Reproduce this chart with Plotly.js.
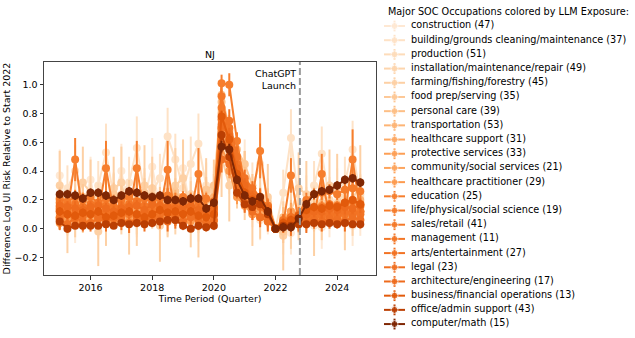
<!DOCTYPE html>
<html>
<head>
<meta charset="utf-8">
<script src="https://cdn.plot.ly/plotly-3.0.1.min.js"></script>
<style>
  html, body { margin: 0; padding: 0; background: #fff; }
  #chart { width: 635px; height: 338px; }
</style>
</head>
<body>
<div id="chart"></div>
<script>
// Trimestres 2015Q1 .. 2024Q4
const quarters = [2015, 2015.25, 2015.5, 2015.75, 2016, 2016.25, 2016.5, 2016.75, 2017, 2017.25, 2017.5, 2017.75,
  2018, 2018.25, 2018.5, 2018.75, 2019, 2019.25, 2019.5, 2019.75, 2020, 2020.25, 2020.5, 2020.75,
  2021, 2021.25, 2021.5, 2021.75, 2022, 2022.25, 2022.5, 2022.75, 2023, 2023.25, 2023.5, 2023.75,
  2024, 2024.25, 2024.5, 2024.75];

const occupations = ['construction (47)', 'building/grounds cleaning/maintenance (37)', 'production (51)',
  'installation/maintenance/repair (49)', 'farming/fishing/forestry (45)', 'food prep/serving (35)',
  'personal care (39)', 'transportation (53)', 'healthcare support (31)', 'protective services (33)',
  'community/social services (21)', 'healthcare practitioner (29)', 'education (25)',
  'life/physical/social science (19)', 'sales/retail (41)', 'management (11)', 'arts/entertainment (27)',
  'legal (23)', 'architecture/engineering (17)', 'business/financial operations (13)',
  'office/admin support (43)', 'computer/math (15)'];

const colors = ['#fee8d3', '#fee2c6', '#fddcba', '#fdd5ad', '#fdd0a4', '#fdc896', '#fdbf86', '#fdb475',
  '#fda863', '#fd9f55', '#fda55e', '#fd9b4f', '#f67e2d', '#f57b2a', '#f47828', '#f37626', '#f27324',
  '#f07022', '#ee6b1d', '#e25a0b', '#bb3f03', '#7f2704'];

const launchQuarter = 2022.79;

// valores y errores por ocupacion
const construction = [0.37,0.10,0.06,0.16, 0.34,0.08,0.05,0.19, 0.40,0.12,0.08,0.22, 0.43,0.14,0.10,0.24, 0.42,0.12,0.07,0.18, 0.28,0.60,0.42,0.36, 0.44,0.16,0.06,0.12, 0.00,-0.04,-0.03,0.08, 0.20,0.02,0.01,0.10, 0.24,0.04,0.02,0.12];
const constructionErr = [0.18,0.15,0.16,0.17, 0.16,0.14,0.15,0.18, 0.19,0.15,0.14,0.17, 0.20,0.16,0.15,0.18, 0.19,0.14,0.16,0.17, 0.15,0.20,0.18,0.16, 0.18,0.15,0.14,0.16, 0,0.14,0.15,0.16, 0.17,0.14,0.15,0.16, 0.18,0.15,0.14,0.17];
const building = [0.22,0.28,0.40,0.18, 0.20,0.30,0.53,0.22, 0.24,0.32,0.56,0.25, 0.26,0.35,0.64,0.48, 0.28,0.45,0.59,0.30, 0.25,0.70,0.55,0.40, 0.35,0.30,0.45,0.20, 0.00,0.25,0.63,0.18, 0.15,0.30,0.52,0.20, 0.18,0.32,0.55,0.22];
const buildingErr = [0.14,0.16,0.18,0.15, 0.15,0.17,0.20,0.16, 0.14,0.18,0.22,0.17, 0.16,0.17,0.20,0.18, 0.15,0.19,0.21,0.16, 0.15,0.22,0.20,0.18, 0.17,0.16,0.19,0.15, 0,0.16,0.20,0.15, 0.14,0.17,0.19,0.16, 0.15,0.18,0.20,0.16];
const production = [0.18,0.12,0.20,0.15, 0.14,0.22,0.16,0.28, 0.20,0.15,0.25,0.18, 0.22,0.17,0.26,0.20, 0.16,0.24,0.18,0.22, 0.20,0.82,0.58,0.38, 0.32,0.25,0.22,0.16, 0.00,0.06,0.10,0.14, 0.12,0.18,0.15,0.20, 0.16,0.22,0.18,0.24];
const productionErr = [0.10,0.12,0.11,0.13, 0.12,0.10,0.13,0.11, 0.11,0.12,0.10,0.13, 0.12,0.11,0.13,0.10, 0.11,0.12,0.10,0.12, 0.11,0.14,0.13,0.12, 0.12,0.11,0.10,0.12, 0,0.11,0.12,0.10, 0.11,0.12,0.11,0.13, 0.12,0.11,0.12,0.13];
const installation = [0.10,0.06,0.14,0.08, 0.12,0.05,0.16,0.10, 0.08,0.13,0.06,0.15, 0.11,0.09,0.17,0.07, 0.13,0.10,0.08,0.14, 0.12,0.74,0.52,0.33, 0.27,0.19,0.15,0.10, 0.00,0.05,0.08,0.04, 0.09,0.12,0.10,0.15, 0.11,0.14,0.13,0.17];
const installationErr = [0.11,0.10,0.12,0.11, 0.10,0.12,0.11,0.10, 0.12,0.11,0.10,0.12, 0.11,0.10,0.12,0.11, 0.10,0.12,0.11,0.10, 0.11,0.13,0.12,0.11, 0.10,0.11,0.12,0.10, 0,0.10,0.11,0.12, 0.11,0.10,0.12,0.11, 0.10,0.12,0.11,0.12];
const farming = [0.30,0.05,0.20,0.32, 0.25,-0.02,0.15,0.28, 0.32,0.08,0.12,0.30, 0.28,0.02,0.18,0.30, 0.35,0.10,0.05,0.25, 0.26,0.50,0.30,0.40, 0.30,0.10,0.18,0.22, 0.00,-0.05,0.12,0.28, 0.24,0.05,0.18,0.30, 0.28,0.08,0.20,0.32];
const farmingErr = [0.24,0.22,0.26,0.25, 0.23,0.24,0.27,0.22, 0.25,0.26,0.24,0.28, 0.22,0.25,0.24,0.26, 0.27,0.23,0.25,0.24, 0.22,0.28,0.25,0.26, 0.24,0.22,0.25,0.23, 0,0.24,0.26,0.25, 0.23,0.24,0.26,0.25, 0.24,0.23,0.25,0.26];
const foodPrep = [0.20,0.18,0.15,0.22, 0.19,0.17,0.14,0.24, 0.21,0.16,0.18,0.25, 0.23,0.20,0.16,0.26, 0.22,0.19,0.17,0.27, 0.30,0.93,0.70,0.55, 0.45,0.30,0.20,0.18, 0.00,-0.02,0.03,0.08, 0.10,0.06,0.08,0.12, 0.13,0.09,0.10,0.15];
const foodPrepErr = [0.09,0.08,0.10,0.09, 0.08,0.09,0.10,0.08, 0.09,0.08,0.09,0.10, 0.08,0.09,0.10,0.09, 0.09,0.08,0.10,0.09, 0.08,0.10,0.09,0.10, 0.09,0.08,0.09,0.10, 0,0.08,0.09,0.10, 0.09,0.08,0.10,0.09, 0.08,0.09,0.10,0.09];
const personalCare = [0.08,0.12,0.10,0.15, 0.10,0.14,0.12,0.09, 0.13,0.11,0.15,0.10, 0.12,0.16,0.11,0.14, 0.09,0.13,0.10,0.12, 0.11,0.88,0.66,0.45, 0.35,0.22,0.14,0.10, 0.00,0.08,0.12,0.06, 0.10,0.15,0.11,0.14, 0.12,0.16,0.13,0.18];
const personalCareErr = [0.08,0.07,0.09,0.08, 0.07,0.08,0.09,0.07, 0.08,0.09,0.07,0.08, 0.09,0.08,0.07,0.09, 0.08,0.07,0.09,0.08, 0.07,0.09,0.08,0.09, 0.08,0.07,0.08,0.09, 0,0.07,0.08,0.09, 0.08,0.07,0.09,0.08, 0.07,0.08,0.09,0.08];
const transportation = [0.20,0.17,0.15,0.19, 0.18,0.16,0.14,0.20, 0.19,0.18,0.16,0.21, 0.20,0.17,0.15,0.22, 0.19,0.16,0.15,0.20, 0.22,0.80,0.68,0.44, 0.33,0.26,0.20,0.15, 0.00,0.04,0.06,0.08, 0.12,0.13,0.14,0.16, 0.17,0.18,0.16,0.20];
const transportationErr = [0.05,0.04,0.05,0.06, 0.04,0.05,0.05,0.04, 0.05,0.06,0.04,0.05, 0.05,0.04,0.06,0.05, 0.04,0.05,0.05,0.06, 0.05,0.07,0.06,0.05, 0.05,0.04,0.05,0.05, 0,0.04,0.05,0.05, 0.05,0.04,0.05,0.06, 0.05,0.05,0.04,0.06];
const healthSupport = [0.12,0.09,0.14,0.10, 0.11,0.08,0.13,0.12, 0.10,0.09,0.15,0.11, 0.13,0.10,0.12,0.09, 0.12,0.11,0.13,0.10, 0.14,0.70,0.50,0.30, 0.22,0.16,0.12,0.08, 0.00,0.03,0.06,0.05, 0.07,0.09,0.08,0.10, 0.09,0.11,0.10,0.12];
const healthSupportErr = [0.06,0.05,0.06,0.07, 0.05,0.06,0.06,0.05, 0.06,0.07,0.05,0.06, 0.06,0.05,0.07,0.06, 0.05,0.06,0.06,0.07, 0.06,0.08,0.07,0.06, 0.06,0.05,0.06,0.06, 0,0.05,0.06,0.06, 0.06,0.05,0.06,0.07, 0.06,0.06,0.05,0.07];
const protective = [0.15,0.13,0.18,0.12, 0.14,0.16,0.20,0.13, 0.15,0.12,0.19,0.14, 0.16,0.14,0.21,0.13, 0.15,0.13,0.18,0.12, 0.16,0.66,0.55,0.35, 0.24,0.18,0.20,0.13, 0.00,0.05,0.12,0.08, 0.09,0.11,0.16,0.12, 0.13,0.15,0.20,0.16];
const protectiveErr = [0.06,0.06,0.07,0.05, 0.06,0.07,0.06,0.05, 0.06,0.05,0.07,0.06, 0.06,0.06,0.07,0.05, 0.06,0.05,0.07,0.06, 0.06,0.08,0.07,0.06, 0.06,0.05,0.07,0.06, 0,0.05,0.06,0.06, 0.06,0.05,0.07,0.06, 0.06,0.06,0.07,0.06];
const community = [0.07,0.10,0.12,0.06, 0.09,0.11,0.14,0.07, 0.08,0.10,0.13,0.09, 0.10,0.12,0.15,0.08, 0.09,0.11,0.14,0.07, 0.10,0.62,0.58,0.36, 0.26,0.18,0.20,0.10, 0.00,0.04,0.10,0.06, 0.07,0.09,0.13,0.08, 0.09,0.12,0.16,0.10];
const communityErr = [0.07,0.06,0.08,0.07, 0.06,0.07,0.08,0.06, 0.07,0.06,0.08,0.07, 0.07,0.06,0.08,0.06, 0.07,0.06,0.08,0.07, 0.06,0.09,0.08,0.07, 0.07,0.06,0.08,0.07, 0,0.06,0.07,0.07, 0.07,0.06,0.08,0.07, 0.06,0.07,0.08,0.07];
const healthPract = [0.04,0.06,0.05,0.03, 0.05,0.07,0.06,0.04, 0.06,0.05,0.07,0.05, 0.07,0.06,0.08,0.06, 0.06,0.05,0.07,0.04, 0.05,0.58,0.40,0.22, 0.16,0.10,0.08,0.05, 0.00,0.02,0.04,0.03, 0.04,0.05,0.06,0.05, 0.05,0.06,0.07,0.06];
const healthPractErr = [0.04,0.04,0.05,0.04, 0.04,0.05,0.04,0.04, 0.05,0.04,0.04,0.05, 0.04,0.04,0.05,0.04, 0.04,0.05,0.04,0.04, 0.04,0.06,0.05,0.05, 0.04,0.04,0.05,0.04, 0,0.04,0.04,0.05, 0.04,0.04,0.05,0.04, 0.04,0.05,0.04,0.04];
const education = [0.14,0.12,0.48,0.10, 0.13,0.11,0.42,0.12, 0.12,0.10,0.42,0.11, 0.13,0.12,0.41,0.10, 0.12,0.11,0.38,0.12, 0.13,1.01,1.00,0.61, 0.30,0.22,0.54,0.16, 0.00,0.03,0.37,0.05, 0.06,0.08,0.38,0.07, 0.08,0.10,0.48,0.12];
const educationErr = [0.04,0.04,0.15,0.04, 0.04,0.04,0.19,0.04, 0.04,0.04,0.19,0.04, 0.04,0.04,0.20,0.04, 0.04,0.04,0.18,0.04, 0.04,0.06,0.08,0.06, 0.05,0.05,0.19,0.04, 0,0.04,0.12,0.04, 0.04,0.04,0.14,0.04, 0.04,0.04,0.21,0.04];
const lifeScience = [0.21,0.19,0.22,0.20, 0.22,0.18,0.21,0.19, 0.20,0.22,0.19,0.21, 0.19,0.21,0.23,0.20, 0.22,0.20,0.18,0.21, 0.19,0.84,0.60,0.40, 0.30,0.24,0.20,0.16, 0.00,0.06,0.08,0.10, 0.20,0.24,0.25,0.26, 0.24,0.27,0.28,0.26];
const lifeScienceErr = [0.05,0.04,0.05,0.05, 0.04,0.05,0.05,0.04, 0.05,0.05,0.04,0.05, 0.05,0.04,0.05,0.05, 0.04,0.05,0.05,0.04, 0.05,0.07,0.06,0.05, 0.05,0.04,0.05,0.05, 0,0.04,0.05,0.05, 0.05,0.04,0.05,0.05, 0.04,0.05,0.05,0.05];
const sales = [0.13,0.11,0.10,0.14, 0.12,0.10,0.11,0.15, 0.12,0.11,0.10,0.13, 0.13,0.12,0.11,0.14, 0.12,0.10,0.11,0.13, 0.12,0.92,0.66,0.42, 0.28,0.20,0.15,0.09, 0.00,0.02,0.04,0.05, 0.07,0.08,0.09,0.10, 0.09,0.10,0.11,0.12];
const salesErr = [0.03,0.03,0.03,0.03, 0.03,0.03,0.03,0.03, 0.03,0.03,0.03,0.03, 0.03,0.03,0.03,0.03, 0.03,0.03,0.03,0.03, 0.03,0.04,0.04,0.03, 0.03,0.03,0.03,0.03, 0,0.03,0.03,0.03, 0.03,0.03,0.03,0.03, 0.03,0.03,0.03,0.03];
const management = [0.18,0.16,0.17,0.15, 0.17,0.18,0.16,0.15, 0.16,0.17,0.18,0.16, 0.17,0.16,0.15,0.17, 0.16,0.15,0.16,0.14, 0.15,0.76,0.70,0.45, 0.32,0.25,0.21,0.15, 0.00,0.04,0.07,0.09, 0.12,0.14,0.15,0.17, 0.16,0.18,0.19,0.17];
const managementErr = [0.03,0.03,0.04,0.03, 0.03,0.04,0.03,0.03, 0.04,0.03,0.03,0.04, 0.03,0.03,0.04,0.03, 0.03,0.04,0.03,0.03, 0.04,0.05,0.05,0.04, 0.04,0.03,0.04,0.03, 0,0.03,0.03,0.04, 0.03,0.03,0.04,0.03, 0.03,0.04,0.03,0.04];
const arts = [0.08,0.10,0.07,0.09, 0.11,0.08,0.10,0.07, 0.09,0.12,0.08,0.10, 0.10,0.09,0.11,0.08, 0.11,0.10,0.09,0.10, 0.09,0.70,0.75,0.50, 0.35,0.28,0.22,0.14, 0.00,0.05,0.08,0.06, 0.08,0.10,0.09,0.11, 0.10,0.12,0.11,0.10];
const artsErr = [0.06,0.05,0.06,0.06, 0.05,0.06,0.06,0.05, 0.06,0.06,0.05,0.06, 0.06,0.05,0.06,0.06, 0.05,0.06,0.06,0.05, 0.06,0.08,0.08,0.07, 0.06,0.05,0.06,0.06, 0,0.05,0.06,0.06, 0.06,0.05,0.06,0.06, 0.05,0.06,0.06,0.05];
const legal = [0.06,0.03,0.08,0.05, 0.04,0.07,0.05,0.08, 0.06,0.04,0.07,0.05, 0.08,0.06,0.05,0.07, 0.05,0.08,0.06,0.04, 0.06,0.48,0.45,0.28, 0.18,0.12,0.08,0.05, 0.00,0.03,0.02,0.05, 0.04,0.06,0.05,0.07, 0.06,0.05,0.08,0.06];
const legalErr = [0.07,0.06,0.07,0.07, 0.06,0.07,0.07,0.06, 0.07,0.07,0.06,0.07, 0.07,0.06,0.07,0.07, 0.06,0.07,0.07,0.06, 0.07,0.09,0.08,0.07, 0.07,0.06,0.07,0.07, 0,0.06,0.07,0.07, 0.07,0.06,0.07,0.07, 0.06,0.07,0.07,0.06];
const architecture = [0.16,0.15,0.14,0.13, 0.15,0.16,0.14,0.12, 0.14,0.15,0.16,0.13, 0.17,0.16,0.15,0.14, 0.15,0.16,0.13,0.12, 0.14,0.72,0.64,0.42, 0.30,0.22,0.18,0.14, 0.00,0.03,0.05,0.06, 0.10,0.12,0.12,0.14, 0.13,0.15,0.14,0.16];
const architectureErr = [0.04,0.04,0.05,0.04, 0.04,0.05,0.04,0.04, 0.05,0.04,0.04,0.05, 0.04,0.04,0.05,0.04, 0.04,0.05,0.04,0.04, 0.05,0.06,0.06,0.05, 0.05,0.04,0.05,0.04, 0,0.04,0.04,0.05, 0.04,0.04,0.05,0.04, 0.04,0.05,0.04,0.05];
const business = [0.12,0.10,0.09,0.11, 0.10,0.12,0.08,0.09, 0.11,0.12,0.10,0.08, 0.10,0.13,0.11,0.12, 0.10,0.12,0.09,0.08, 0.10,0.78,0.62,0.38, 0.25,0.20,0.18,0.12, 0.00,0.04,0.06,0.09, 0.13,0.15,0.14,0.16, 0.15,0.18,0.20,0.17];
const businessErr = [0.03,0.03,0.03,0.03, 0.03,0.03,0.03,0.03, 0.03,0.03,0.03,0.03, 0.03,0.03,0.03,0.03, 0.03,0.03,0.03,0.03, 0.03,0.04,0.04,0.03, 0.03,0.03,0.03,0.03, 0,0.03,0.03,0.03, 0.03,0.03,0.03,0.03, 0.03,0.03,0.03,0.03];
const officeAdmin = [0.05,0.00,0.02,0.02, 0.02,0.02,0.03,0.02, 0.04,0.03,0.04,0.03, 0.04,0.05,0.06,0.06, 0.02,0.00,0.02,0.01, 0.02,0.65,0.50,0.25, 0.17,0.15,0.17,0.10, 0.00,0.02,0.02,0.03, 0.03,0.04,0.03,0.04, 0.03,0.04,0.03,0.03];
const officeAdminErr = [0.02,0.02,0.02,0.02, 0.02,0.02,0.02,0.02, 0.02,0.02,0.02,0.02, 0.02,0.02,0.02,0.02, 0.02,0.02,0.02,0.02, 0.02,0.03,0.03,0.02, 0.02,0.02,0.02,0.02, 0,0.02,0.02,0.02, 0.02,0.02,0.02,0.02, 0.02,0.02,0.02,0.02];
const computerMath = [0.24,0.24,0.23,0.21, 0.25,0.25,0.23,0.20, 0.23,0.26,0.25,0.23, 0.22,0.23,0.20,0.20, 0.19,0.21,0.21,0.14, 0.18,0.57,0.55,0.34, 0.23,0.19,0.22,0.12, 0.00,0.01,0.01,0.07, 0.17,0.24,0.26,0.27, 0.30,0.34,0.35,0.32];
const computerMathErr = [0.03,0.03,0.03,0.03, 0.03,0.03,0.03,0.03, 0.03,0.03,0.03,0.03, 0.03,0.03,0.03,0.03, 0.03,0.03,0.03,0.03, 0.03,0.04,0.04,0.03, 0.03,0.03,0.03,0.03, 0,0.03,0.03,0.03, 0.03,0.03,0.03,0.03, 0.03,0.03,0.03,0.03];

const seriesValues = [construction, building, production, installation, farming, foodPrep, personalCare,
  transportation, healthSupport, protective, community, healthPract, education, lifeScience, sales,
  management, arts, legal, architecture, business, officeAdmin, computerMath];
const seriesErrors = [constructionErr, buildingErr, productionErr, installationErr, farmingErr, foodPrepErr,
  personalCareErr, transportationErr, healthSupportErr, protectiveErr, communityErr, healthPractErr,
  educationErr, lifeScienceErr, salesErr, managementErr, artsErr, legalErr, architectureErr, businessErr,
  officeAdminErr, computerMathErr];

const FONT = 'DejaVu Sans';

// lineas principales (la mas clara abajo, la mas oscura arriba)
const traces = seriesValues.map((vals, i) => ({
  x: quarters,
  y: vals,
  type: 'scatter',
  mode: 'lines+markers',
  line: { color: colors[i], width: 2 },
  marker: { color: colors[i], size: 8 },
  error_y: { type: 'data', array: seriesErrors[i], visible: true, color: colors[i], thickness: 2, width: 0 },
  showlegend: false,
  hoverinfo: 'skip'
}));

// leyenda dibujada en un eje aparte (estilo matplotlib con barra de error)
occupations.forEach((name, i) => {
  traces.push({
    x: [6, 16.5, 27],
    y: [i, i, i],
    xaxis: 'x2', yaxis: 'y2',
    type: 'scatter',
    mode: 'lines+markers',
    line: { color: colors[i], width: 2 },
    marker: { color: colors[i], size: [0, 7, 0] },
    error_y: { type: 'data', array: [0, 0.38, 0], visible: true, color: colors[i], thickness: 2, width: 0 },
    showlegend: false,
    hoverinfo: 'skip'
  });
});
traces.push({
  x: occupations.map(() => 33),
  y: occupations.map((_, i) => i),
  text: occupations,
  xaxis: 'x2', yaxis: 'y2',
  type: 'scatter',
  mode: 'text',
  textposition: 'middle right',
  textfont: { family: FONT, size: 9.7, color: '#000' },
  showlegend: false,
  hoverinfo: 'skip'
});

const layout = {
  width: 635,
  height: 338,
  margin: { l: 44, r: 5, t: 5, b: 5, autoexpand: false },
  paper_bgcolor: '#fff',
  plot_bgcolor: '#fff',
  font: { family: FONT, size: 9.5, color: '#000' },
  showlegend: false,
  xaxis: {
    domain: [0, 0.5666],
    range: [2014.49, 2025.26],
    tickvals: [2016, 2018, 2020, 2022, 2024],
    ticks: 'outside', ticklen: 3.5, tickwidth: 1, tickcolor: '#333',
    showline: true, mirror: true, linecolor: '#444', linewidth: 1,
    showgrid: false, zeroline: false,
    tickfont: { size: 9.5 },
    title: { text: 'Time Period (Quarter)', standoff: 2, font: { size: 9.5 } }
  },
  yaxis: {
    domain: [0.1768, 0.8262],
    range: [-0.322, 1.158],
    tickvals: [-0.2, 0, 0.2, 0.4, 0.6, 0.8, 1.0],
    tickformat: '.1f',
    ticks: 'outside', ticklen: 3.5, tickwidth: 1, tickcolor: '#333',
    showline: true, mirror: true, linecolor: '#444', linewidth: 1,
    showgrid: false, zeroline: false,
    tickfont: { size: 9.5 },
    title: { text: 'Difference Log UI Risk Relative to Start 2022', standoff: 2, font: { size: 9.5 } }
  },
  xaxis2: { domain: [0.57, 1], range: [0, 252], visible: false, anchor: 'y2', fixedrange: true },
  yaxis2: { domain: [0, 1], range: [21.63, -1.48], visible: false, anchor: 'x2', fixedrange: true },
  shapes: [{
    type: 'line', xref: 'x', yref: 'y domain',
    x0: launchQuarter, x1: launchQuarter, y0: 0, y1: 1,
    line: { color: '#9a9a9a', width: 2, dash: '7px,3px' }
  }],
  annotations: [
    {
      text: 'NJ', xref: 'x domain', yref: 'y domain', x: 0.5, y: 1,
      xanchor: 'center', yanchor: 'bottom', showarrow: false, font: { size: 9.5 }
    },
    {
      text: 'ChatGPT<br>Launch', xref: 'x', yref: 'y', x: launchQuarter - 0.06, y: 1.13,
      xanchor: 'right', yanchor: 'top', align: 'right', showarrow: false, font: { size: 9.5 }
    },
    {
      text: 'Major SOC Occupations colored by LLM Exposure:', xref: 'x2', yref: 'y2', x: 8, y: -1,
      xanchor: 'left', yanchor: 'middle', showarrow: false, font: { size: 9.7 }
    }
  ]
};

Plotly.newPlot('chart', traces, layout, { displayModeBar: false, staticPlot: true });
</script>
</body>
</html>
